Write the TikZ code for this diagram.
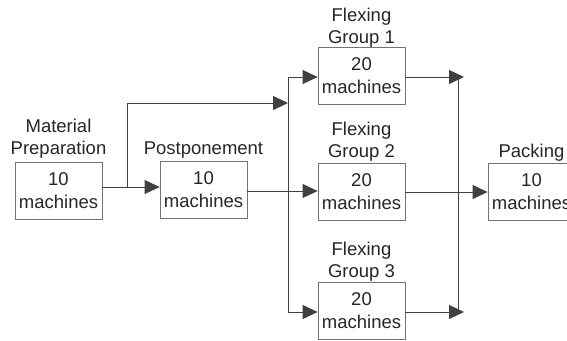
\documentclass[tikz,border=0pt]{standalone}
\usepackage{fontspec}
\setmainfont{Liberation Sans}
\usetikzlibrary{arrows.meta}
\begin{document}
\begin{tikzpicture}[x=1pt,y=-1pt,
  box/.style={draw=black!55,line width=0.8pt,minimum width=87pt,minimum height=57pt,inner sep=0pt,align=center,font=\fontsize{18.5}{23}\selectfont,text=black!85},
  lbl/.style={align=center,font=\fontsize{18.5}{22}\selectfont,text=black!85,inner sep=0pt},
  con/.style={draw=black!75,line width=0.9pt},
  arr/.style={con,-{Triangle[length=15pt,width=14pt]}}]
\useasboundingbox (0,0) rectangle (567,340);
\node[box] (mp) at (58.5,191) {10\\machines};
\node[box] (post) at (203.5,190) {10\\machines};
\node[box] (fg1) at (361.5,76) {20\\machines};
\node[box] (fg2) at (361.5,191.5) {20\\machines};
\node[box] (fg3) at (361.5,310.5) {20\\machines};
\node[box] (pack) at (531.5,191.5) {10\\machines};
\node[lbl] (lmp) at (58.5,139) {Material\\Preparation};
\node[lbl] (lpost) at (203.5,150) {Postponement};
\node[lbl] (lfg1) at (361.5,27.5) {Flexing\\Group 1};
\node[lbl] (lfg2) at (361.5,142) {Flexing\\Group 2};
\node[lbl] (lfg3) at (361.5,261.5) {Flexing\\Group 3};
\node[lbl] (lpack) at (531.5,153) {Packing};
\coordinate (b1) at (127,187);
\coordinate (b2) at (127,103);
\coordinate (j1) at (288,103);
\coordinate (jt) at (288,77);
\coordinate (jb) at (288,312);
\coordinate (r1) at (464,77);
\coordinate (r3) at (464,312);
\coordinate (vt) at (458,77);
\coordinate (vb) at (458,312);
\draw[arr] (mp.east |- b1) -- (post.west |- b1);
\draw[con] (b1) -- (b2);
\draw[arr] (128,103) -- (j1);
\draw[con] (jt) -- (jb);
\draw[arr] (jt) -- (fg1.west |- jt);
\draw[arr] (jb) -- (fg3.west |- jb);
\draw[arr] (post.east |- 0,191) -- (fg2.west |- 0,191);
\draw[arr] (fg1.east |- r1) -- (r1);
\draw[arr] (fg3.east |- r3) -- (r3);
\draw[con] (vt) -- (vb);
\draw[arr] (fg2.east |- 0,192) -- (pack.west |- 0,192);
\end{tikzpicture}
\end{document}
